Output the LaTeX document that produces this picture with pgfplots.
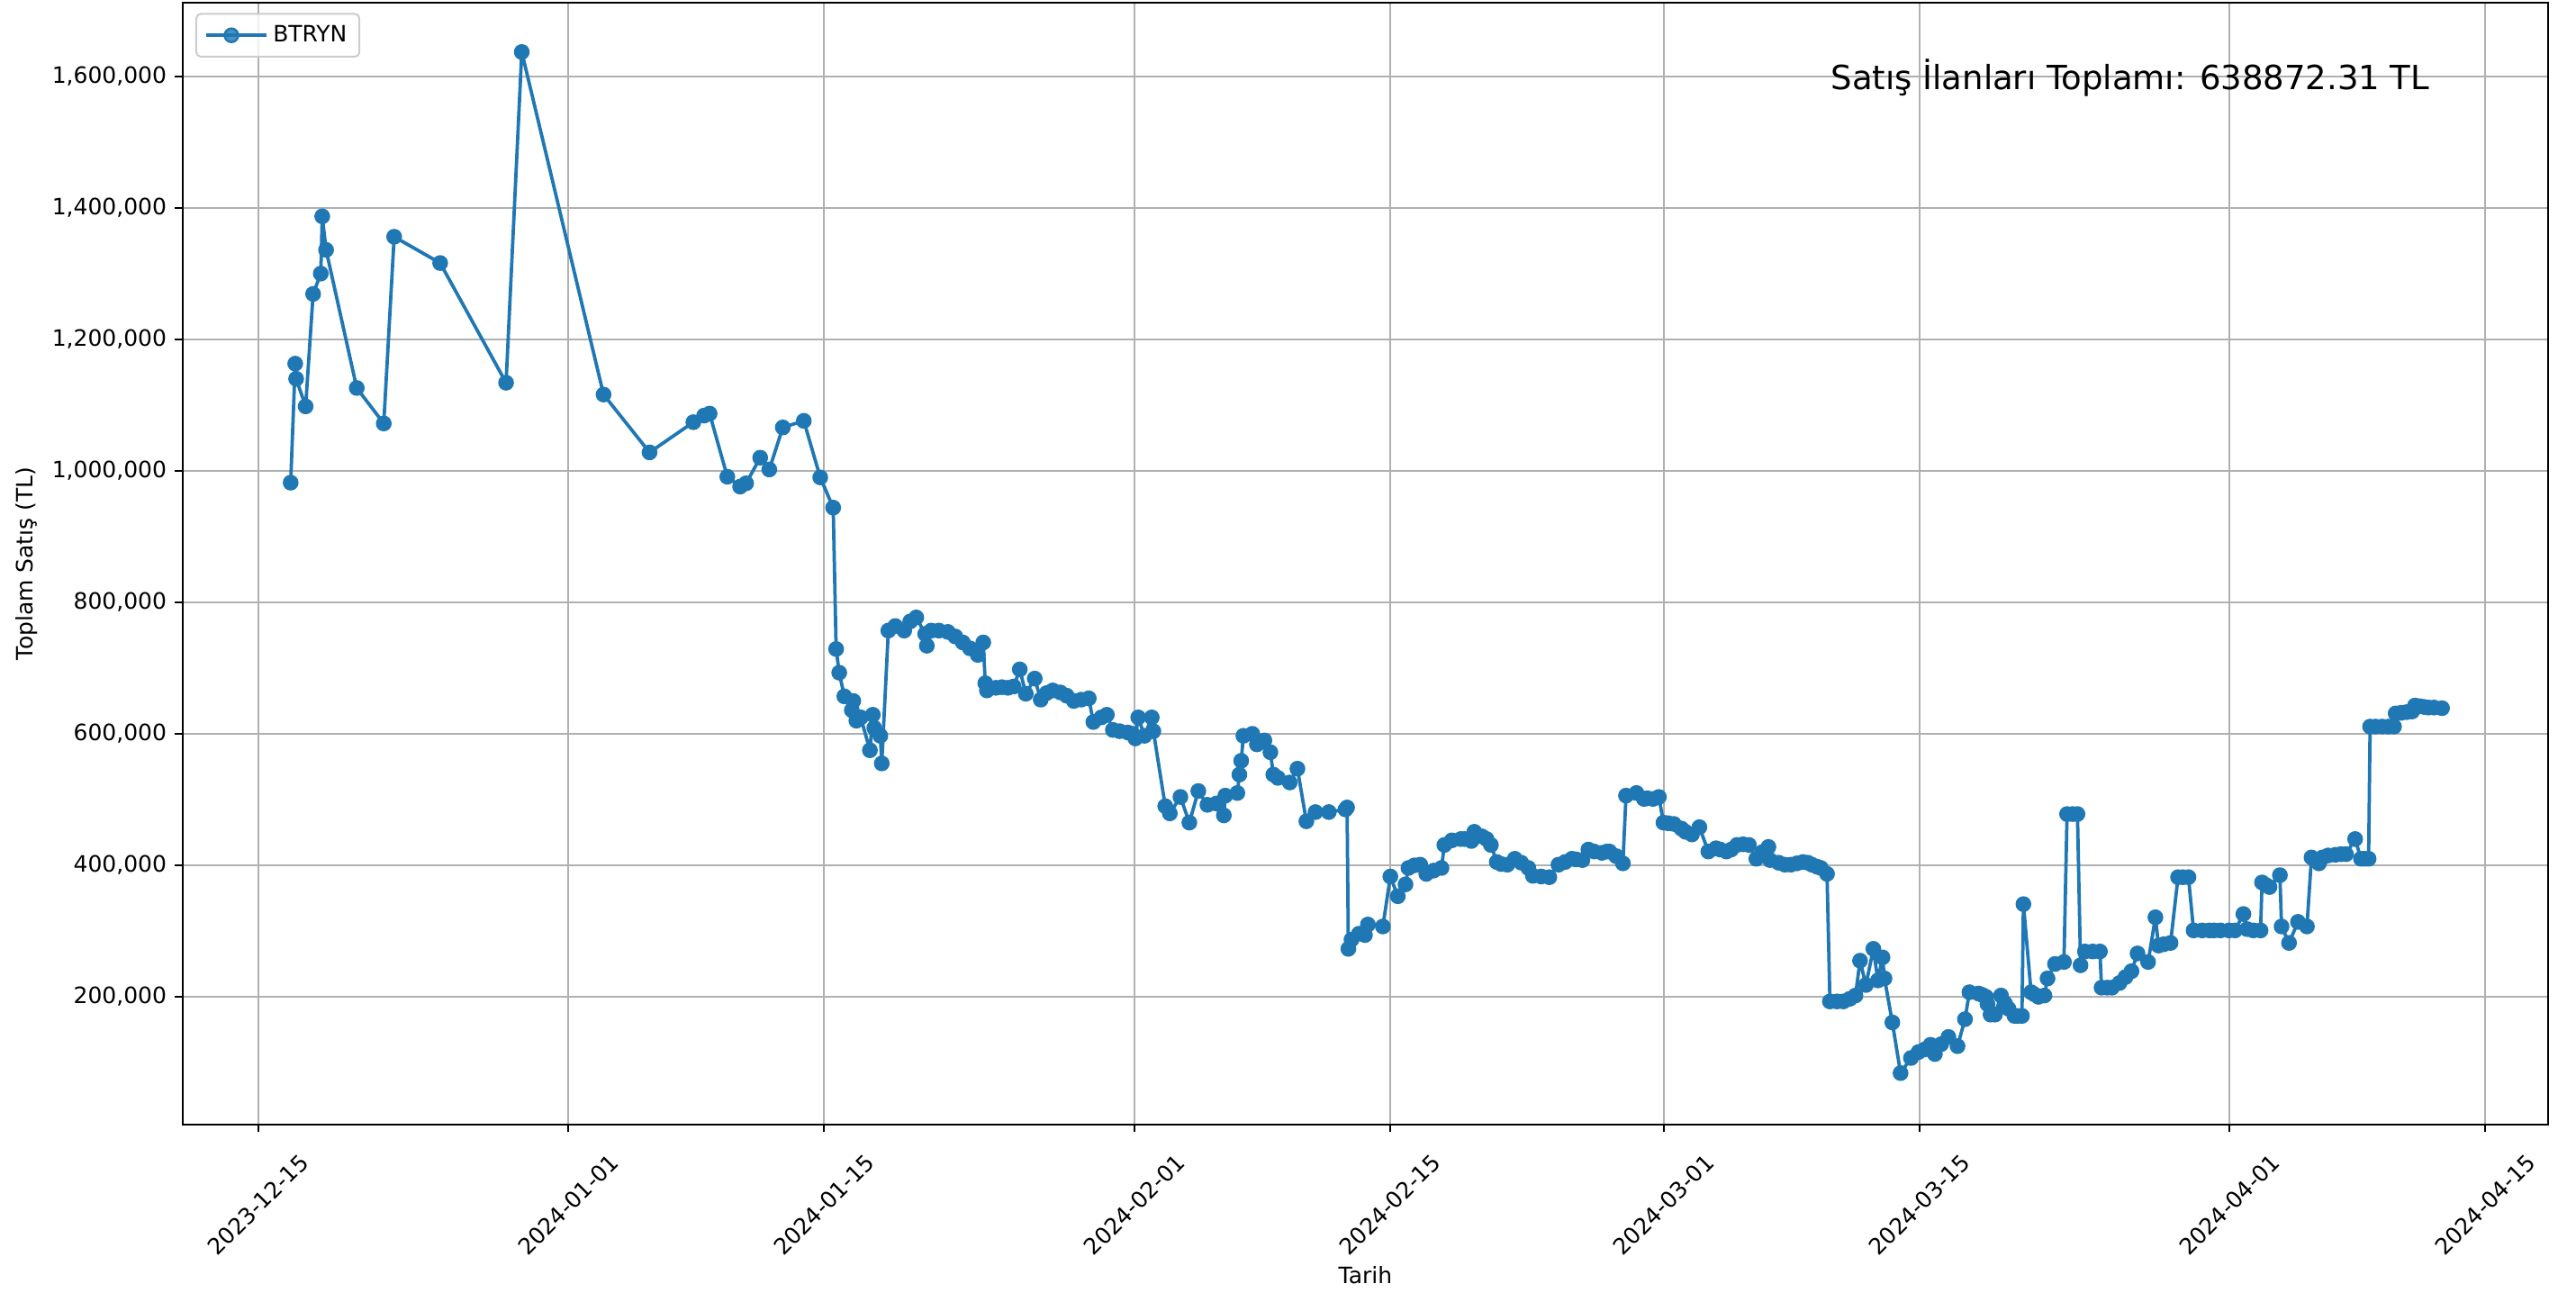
\documentclass[border=0pt]{standalone}
\usepackage{fontspec}
\setmainfont{DejaVu Sans}
\usepackage{pgfplots}
\pgfplotsset{compat=1.18}
\definecolor{c0}{HTML}{1F77B4}
\definecolor{gridc}{HTML}{B0B0B0}
\definecolor{legc}{HTML}{CCCCCC}
\begin{document}
\begin{tikzpicture}
\useasboundingbox (-81.2pt,-74.9pt) rectangle (1063.2pt,499.5pt);
\begin{axis}[
  at={(0pt,0pt)}, anchor=south west,
  scale only axis, width=1050.8pt, height=498.3pt,
  xmin=-4.12, xmax=125.45, ymin=6000, ymax=1712000,
  xtick={0,17,31,48,62,77,91,108,122},
  xticklabels={2023-12-15,2024-01-01,2024-01-15,2024-02-01,2024-02-15,2024-03-01,2024-03-15,2024-04-01,2024-04-15},
  ytick={200000,400000,600000,800000,1000000,1200000,1400000,1600000},
  scaled y ticks=false,
  /pgf/number format/fixed, /pgf/number format/precision=0,
  /pgf/number format/1000 sep={,}, /pgf/number format/assume math mode=true,
  tick align=outside, tick pos=left, major tick length=3.5pt,
  every tick/.style={black, line width=0.8pt},
  axis line style={black, line width=0.8pt},
  grid=major, major grid style={gridc, line width=0.8pt},
  tick label style={font=\fontsize{10}{12}\selectfont},
  yticklabel style={inner sep=0pt, xshift=-3.5pt},
  xticklabel style={yshift=-32.2pt, rotate=45, anchor=center, inner sep=0pt},
  xlabel={Tarih}, ylabel={Toplam Satış (TL)},
  every axis x label/.style={at={(axis description cs:0.5,0)}, yshift=-70.5pt, anchor=base, font=\fontsize{10}{12}\selectfont},
  every axis y label/.style={at={(axis description cs:0,0.5)}, xshift=-66.5pt, rotate=90, anchor=base, font=\fontsize{10}{12}\selectfont},
  legend style={at={(0,1)}, anchor=north west, xshift=5.6pt, yshift=-4.6pt, draw=legc, line width=0.8pt, rounded corners=2pt, fill=white, fill opacity=0.8, text opacity=1, font=\fontsize{10}{12}\selectfont, inner xsep=3.5pt, inner ysep=3.1pt, cells={anchor=west}},
  legend image code/.code={\draw[mark repeat=2,mark phase=2,#1] plot coordinates {(0pt,0pt) (11.35pt,0pt) (22.7pt,0pt)}; \path (0pt,0pt) -- (27.1pt,0pt);},
]
\addplot[c0, line width=1.5pt, line join=round, mark=*, mark size=3pt, mark options={fill=c0, draw=c0, line width=1pt, solid}] table[x=d, y=v] {
d v
1.79 982000
2.04 1163000
2.09 1140000
2.61 1098000
3.02 1269000
3.44 1300000
3.52 1387000
3.73 1336000
5.41 1126000
6.89 1072000
7.46 1356000
9.98 1316000
13.59 1134000
14.45 1637000
18.93 1116000
21.45 1028000
23.85 1074000
24.44 1084000
24.74 1087000
25.71 991000
26.41 976000
26.74 981000
27.51 1020000
28.01 1002000
28.75 1066000
29.90 1076000
30.80 990000
31.51 944000
31.67 729000
31.84 693000
32.12 657000
32.53 636000
32.61 650000
32.78 620000
33.02 625000
33.52 575000
33.68 629000
33.76 609000
34.09 597000
34.17 555000
34.53 757000
34.91 764000
35.40 757000
35.73 771000
36.06 777000
36.55 752000
36.64 734000
36.88 757000
37.30 757000
37.79 755000
38.20 748000
38.61 739000
39.00 730000
39.43 720000
39.73 739000
39.84 677000
39.93 666000
40.42 670000
40.75 671000
41.08 670000
41.40 672000
41.73 698000
42.06 661000
42.55 684000
42.88 652000
43.20 662000
43.54 666000
43.95 663000
44.30 658000
44.69 650000
45.10 652000
45.51 654000
45.76 618000
46.20 625000
46.50 629000
46.83 606000
47.20 604000
47.65 602000
47.90 600000
48.06 593000
48.22 625000
48.56 597000
48.96 625000
49.05 604000
49.70 490000
49.95 479000
50.53 504000
51.02 465000
51.51 513000
52.01 492000
52.50 494000
52.91 476000
52.99 506000
53.65 510000
53.76 538000
53.86 559000
53.98 597000
54.47 600000
54.72 584000
55.13 590000
55.46 572000
55.62 538000
55.87 533000
56.52 526000
56.94 547000
57.43 467000
57.93 481000
58.66 481000
59.57 485000
59.66 488000
59.73 273000
59.90 287000
60.31 296000
60.64 294000
60.80 310000
61.62 307000
62.03 383000
62.44 353000
62.86 371000
63.02 396000
63.35 400000
63.67 401000
64.00 387000
64.40 392000
64.83 396000
64.99 431000
65.40 438000
65.89 440000
66.10 440000
66.47 437000
66.63 451000
67.05 444000
67.30 440000
67.54 431000
67.86 405000
68.10 402000
68.44 401000
68.85 410000
69.20 404000
69.59 396000
69.84 384000
70.30 383000
70.74 382000
71.24 401000
71.60 405000
71.98 410000
72.20 409000
72.55 408000
72.88 424000
73.20 421000
73.62 419000
73.90 421000
74.03 421000
74.40 414000
74.77 403000
74.94 506000
75.51 510000
75.92 501000
76.10 502000
76.42 501000
76.74 504000
76.99 465000
77.25 464000
77.56 463000
77.97 456000
78.20 451000
78.55 447000
78.96 458000
79.45 421000
79.87 426000
80.10 424000
80.44 421000
80.70 424000
81.02 431000
81.35 432000
81.67 431000
82.08 410000
82.40 420000
82.74 428000
82.83 408000
83.30 404000
83.64 401000
83.97 401000
84.30 403000
84.63 405000
84.90 404000
85.12 401000
85.40 398000
85.61 396000
85.95 387000
86.11 193000
86.50 193000
86.85 193000
87.20 197000
87.51 202000
87.76 255000
88.08 218000
88.49 273000
88.74 225000
88.99 260000
89.10 228000
89.53 161000
89.98 84000
90.55 107000
90.96 116000
91.30 120000
91.62 127000
91.86 113000
92.20 128000
92.60 139000
93.10 125000
93.51 166000
93.75 207000
94.25 205000
94.45 203000
94.66 200000
94.74 189000
94.91 173000
95.15 173000
95.48 202000
95.70 190000
95.89 182000
96.22 171000
96.40 171000
96.63 171000
96.71 341000
97.13 207000
97.30 204000
97.53 200000
97.86 202000
98.03 228000
98.44 250000
98.93 253000
99.10 478000
99.40 478000
99.67 478000
99.84 248000
100.08 269000
100.50 269000
100.90 269000
100.99 214000
101.30 214000
101.56 214000
101.97 221000
102.30 230000
102.63 239000
102.96 266000
103.54 253000
103.94 321000
104.11 278000
104.40 280000
104.77 282000
105.18 382000
105.45 382000
105.75 382000
106.03 301000
106.50 301000
106.90 301000
107.15 301000
107.50 301000
107.97 301000
108.30 301000
108.76 326000
108.96 303000
109.30 301000
109.70 301000
109.78 374000
110.00 370000
110.19 367000
110.76 385000
110.85 307000
111.26 282000
111.75 314000
112.24 307000
112.49 412000
112.70 408000
112.90 403000
113.10 412000
113.40 415000
113.80 416000
114.10 417000
114.38 417000
114.88 440000
115.20 410000
115.40 410000
115.62 410000
115.70 611000
116.00 611000
116.36 611000
116.70 611000
117.01 611000
117.10 631000
117.40 632000
117.70 633000
118.00 634000
118.16 643000
118.40 642000
118.65 641000
118.90 640000
119.20 640000
119.64 639000
};
\addlegendentry{BTRYN\hspace{1.5pt}}
\node[anchor=north east, inner sep=0pt, font=\fontsize{14.8}{17.8}\selectfont] at (axis description cs:0.95,0.95) {Satış İlanları Toplamı: 638872.31 TL};
\end{axis}
\end{tikzpicture}
\end{document}
